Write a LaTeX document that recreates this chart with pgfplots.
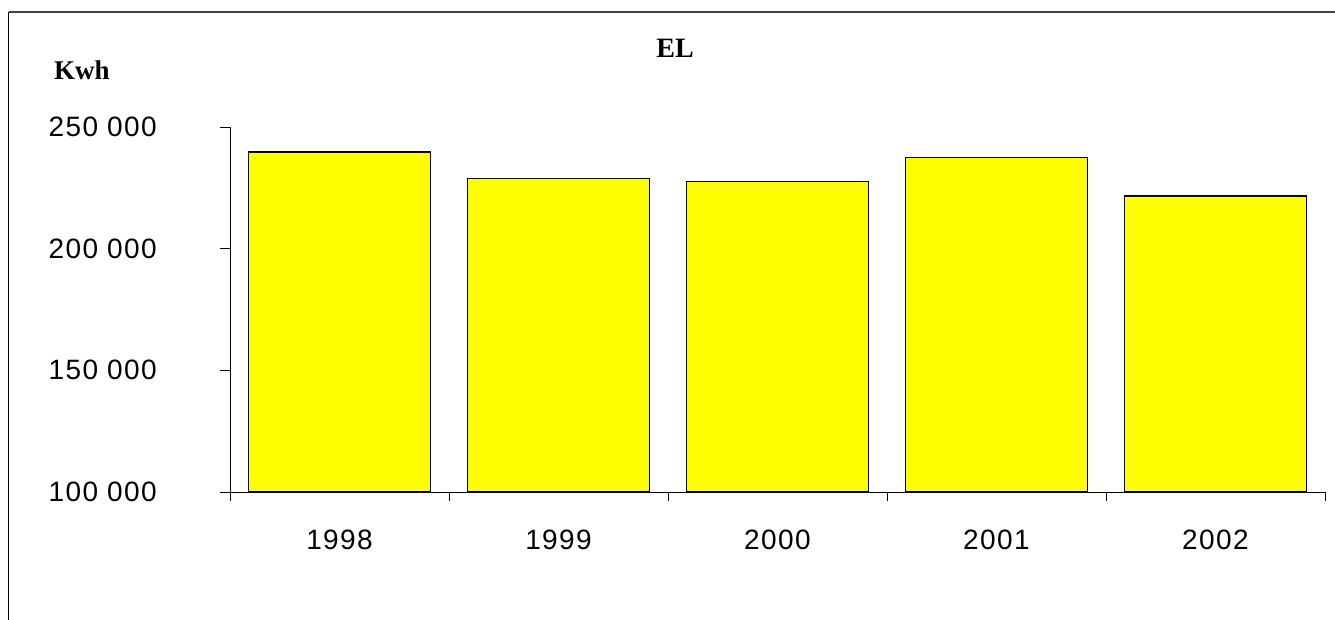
\documentclass[border=0pt]{standalone}
\usepackage{fontspec}
\setmainfont{Liberation Sans}
\newfontfamily\timesfont{Liberation Serif}
\newfontfamily\tickfont{Liberation Sans}[LetterSpace=5]
\usepackage{pgfplots}
\pgfplotsset{compat=1.18}
\begin{document}
\begin{tikzpicture}
\useasboundingbox (0pt,0pt) rectangle (1335pt,-619pt);
\fill[white] (0pt,0pt) rectangle (1335pt,-619pt);
\draw[line width=1.8pt, black!75] (8.5pt,-12pt) -- (1340pt,-12pt);
\draw[line width=1pt, black] (8.5pt,-12pt) -- (8.5pt,-625pt);
\begin{axis}[
  at={(230pt,-492pt)}, anchor=south west,
  scale only axis, width=1095pt, height=365pt,
  xmin=-0.5, xmax=4.5, ymin=100000, ymax=250000,
  axis x line*=bottom, axis y line*=left,
  axis line style={-, line width=1pt, black},
  ybar, bar width=0.83, bar shift=0pt,
  xtick={0,1,2,3,4},
  xticklabels={1998,1999,2000,2001,2002},
  minor xtick={-0.5,0.5,1.5,2.5,3.5,4.5},
  ytick={100000,150000,200000,250000},
  yticklabels={100 000,150 000,200 000,250 000},
  scaled y ticks=false,
  tick align=outside,
  major x tick style={draw=none},
  minor x tick style={black, line width=0.8pt},
  minor tick length=9pt,
  major tick length=10pt,
  y tick style={black, line width=0.8pt},
  xticklabel style={font=\tickfont\fontsize{28}{34}\selectfont, inner sep=0pt, anchor=north, yshift=-28pt},
  yticklabel style={font=\tickfont\fontsize{28}{34}\selectfont, inner sep=0pt, anchor=east, xshift=-63pt},
  clip=true,
]
\addplot[fill={rgb,255:red,255;green,255;blue,0}, draw=black, line width=1.6pt]
  coordinates {(0,239700) (1,228900) (2,227600) (3,237500) (4,221700)};
\end{axis}
\node[font=\timesfont\bfseries\fontsize{28}{32}\selectfont, inner sep=0pt] at (675pt,-48pt) {EL};
\node[font=\timesfont\bfseries\fontsize{27}{32}\selectfont, inner sep=0pt] at (82pt,-70pt) {Kwh};
\end{tikzpicture}
\end{document}
